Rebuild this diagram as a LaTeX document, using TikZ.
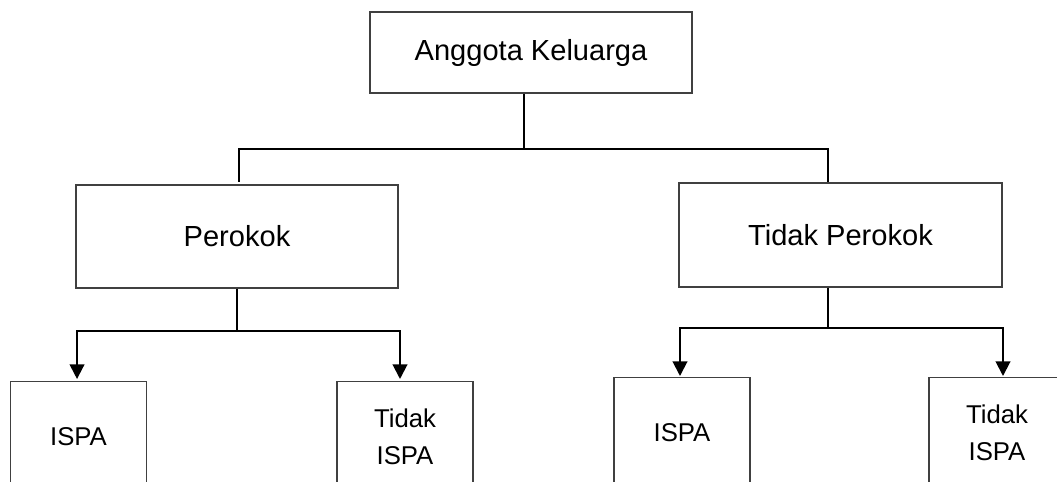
\documentclass[tikz,border=0pt]{standalone}
\usepackage{fontspec}
\setmainfont{Liberation Sans}
\usepackage{tikz}
\tikzset{>=latex}
\usetikzlibrary{arrows.meta}
\usetikzlibrary{calc}
\tikzset{
  box/.style={draw=black!75, line width=0.8pt, rectangle, align=center, inner sep=0pt},
  bigbox/.style={box, font=\fontsize{21.8pt}{26pt}\selectfont},
  smallbox/.style={box, anchor=north, minimum width=102pt, minimum height=82.5pt, font=\fontsize{19.3pt}{27.75pt}\selectfont},
  link/.style={line width=1.2pt, black},
  arr/.style={line width=1.5pt, black, -{Triangle[length=11pt, width=11pt]}}
}
\begin{document}
\begin{tikzpicture}[x=0.75pt, y=0.75pt]
\useasboundingbox (0,0) rectangle (1057,482);
\clip (0,0) rectangle (1057,482);
\node[bigbox, minimum width=241.5pt, minimum height=60.75pt] (anggota) at (531,429.5) {Anggota Keluarga};
\node[bigbox, minimum width=241.5pt, minimum height=77.25pt] (perokok) at (237,245.5) {Perokok};
\node[bigbox, minimum width=242.25pt, minimum height=78pt] (tidakperokok) at (840.5,247) {Tidak Perokok};
\node[smallbox] (ispaA) at (78.5,101) {ISPA};
\node[smallbox] (tidakispaA) at (405,101) {Tidak\\ISPA};
\node[smallbox] (ispaB) at (682,105) {ISPA};
\node[smallbox] (tidakispaB) at (997,105) {Tidak\\ISPA};
\coordinate (j1) at (524,333);
\coordinate (l1) at (239,300);
\coordinate (r1) at (828,300);
\coordinate (j2) at (237,151);
\coordinate (j3) at (828,154);
\draw[link] (anggota.south -| j1) -- (j1);
\draw[link] (l1) |- (r1 |- j1) -- (r1);
\draw[link] (perokok.south -| j2) -- (j2);
\draw[arr] (j2) -| ([xshift=-1.1pt, yshift=1.5pt]ispaA.north);
\draw[arr] (j2) -| ([xshift=-3.75pt, yshift=1.5pt]tidakispaA.north);
\draw[link] (tidakperokok.south -| j3) -- (j3);
\draw[arr] (j3) -| ([xshift=-1.5pt, yshift=0.75pt]ispaB.north);
\draw[arr] (j3) -| ([xshift=4.5pt, yshift=0.75pt]tidakispaB.north);
\end{tikzpicture}
\end{document}
